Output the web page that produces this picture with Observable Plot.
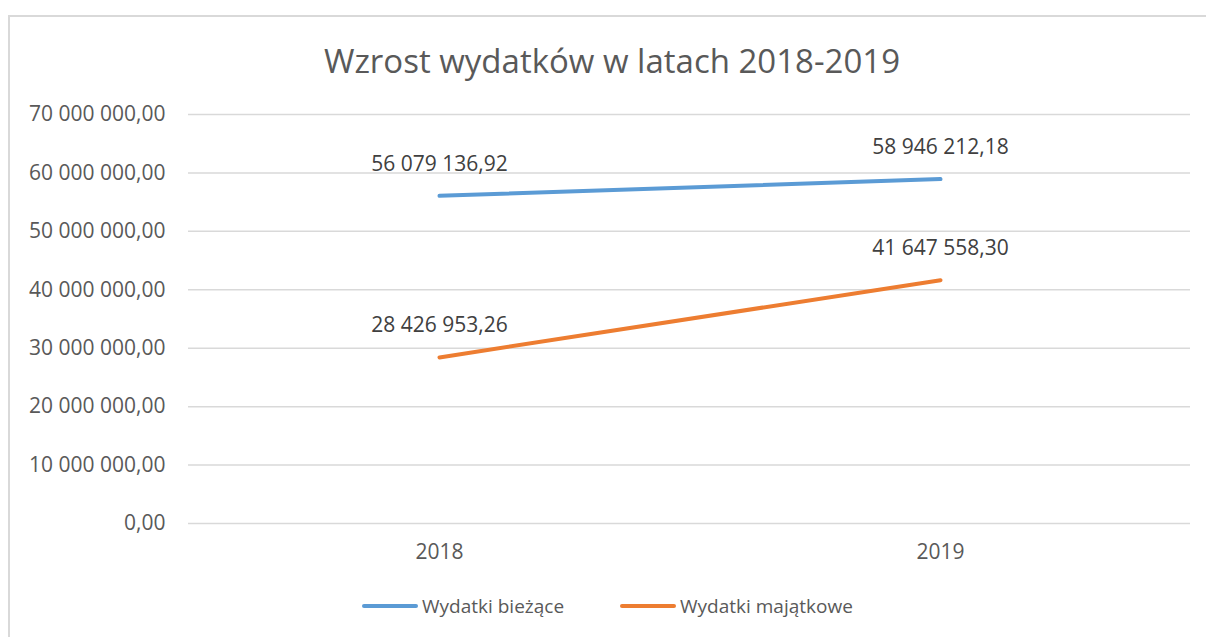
<!DOCTYPE html>
<html>
<head>
<meta charset="utf-8">
<script src="https://cdn.jsdelivr.net/npm/d3@7"></script>
<script src="https://cdn.jsdelivr.net/npm/@observablehq/plot@0.6"></script>
<style>
  html, body { margin: 0; padding: 0; background: #fff; }
  body { width: 1206px; height: 637px; position: relative; overflow: hidden; font-family: "Open Sans", sans-serif; color: #595959; }
  #frame { position: absolute; left: 8px; top: 15px; width: 1220px; height: 640px; border-left: 2px solid #d9d9d9; border-top: 2px solid #d9d9d9; }
  #title { position: absolute; left: 0; top: 38px; width: 1224px; text-align: center; font-size: 33px; line-height: 46px; color: #595959; }
  #chart { position: absolute; left: 0; top: 90px; }
  #legend { position: absolute; top: 593px; left: 0; width: 1206px; height: 26px; font-size: 19px; color: #595959; }
  .item { position: absolute; top: 0; display: flex; align-items: center; height: 26px; }
  .sw { width: 56px; height: 4px; border-radius: 2px; margin-right: 4px; }
</style>
</head>
<body>
<div id="frame"></div>
<div id="title">Wzrost wydatków w latach 2018-2019</div>
<div id="chart"></div>
<div id="legend"></div>
<script>
const years = ["2018", "2019"];
const seriesNames = ["Wydatki bieżące", "Wydatki majątkowe"];
const biezace = [56079136.92, 58946212.18];
const majatkowe = [28426953.26, 41647558.30];
const yTicks = [0, 10000000, 20000000, 30000000, 40000000, 50000000, 60000000, 70000000];
const colors = ["#5b9bd5", "#ed7d31"];

const locale = d3.formatLocale({decimal: ",", thousands: " ", grouping: [3], currency: ["", " zł"]});
const fmt = locale.format(",.2f");

const data = [];
years.forEach((y, i) => {
  data.push({year: y, value: biezace[i], series: seriesNames[0]});
  data.push({year: y, value: majatkowe[i], series: seriesNames[1]});
});

const plot = Plot.plot({
  width: 1206,
  height: 480,
  marginLeft: 188,
  marginRight: 16,
  marginTop: 24,
  marginBottom: 47,
  style: {fontFamily: "Open Sans, sans-serif", fontSize: "21px", color: "#595959", background: "transparent"},
  x: {type: "point", domain: years, padding: 0.5, label: null},
  y: {domain: [0, 70000000], label: null},
  color: {domain: seriesNames, range: colors},
  marks: [
    Plot.gridY(yTicks, {stroke: "#d9d9d9", strokeOpacity: 1, strokeWidth: 1.5}),
    Plot.axisY(yTicks, {tickSize: 0, tickPadding: 23, tickFormat: fmt, fontSize: 21, fill: "#595959"}),
    Plot.axisX(years, {tickSize: 0, tickPadding: 21, fontSize: 21, fill: "#595959"}),
    Plot.line(data, {x: "year", y: "value", z: "series", stroke: "series", strokeWidth: 4, strokeLinecap: "round"}),
    Plot.text(data, {x: "year", y: "value", text: d => fmt(d.value), dy: -32, fontSize: 21, fill: "#404040"})
  ]
});
document.getElementById("chart").appendChild(plot);

const legend = document.getElementById("legend");
const lx = [362, 620];
seriesNames.forEach((name, i) => {
  const it = document.createElement("div");
  it.className = "item";
  it.style.left = lx[i] + "px";
  const sw = document.createElement("div");
  sw.className = "sw";
  sw.style.background = colors[i];
  const t = document.createElement("span");
  t.textContent = name;
  it.appendChild(sw);
  it.appendChild(t);
  legend.appendChild(it);
});
</script>
</body>
</html>
